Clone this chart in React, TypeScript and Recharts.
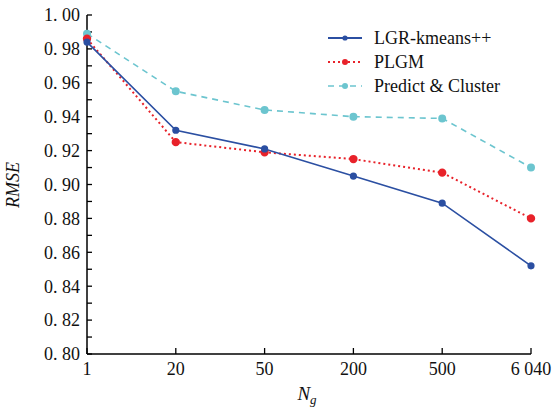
import { LineChart, Line, XAxis, YAxis } from 'recharts';

const categories = ['1', '20', '50', '200', '500', '6 040'];
const lgrKmeans = [0.984, 0.932, 0.921, 0.905, 0.889, 0.852];
const plgm = [0.986, 0.925, 0.919, 0.915, 0.907, 0.880];
const predictCluster = [0.989, 0.955, 0.944, 0.940, 0.939, 0.910];
const yTicks = [
  0.80, 0.81, 0.82, 0.83, 0.84, 0.85, 0.86, 0.87, 0.88, 0.89, 0.90,
  0.91, 0.92, 0.93, 0.94, 0.95, 0.96, 0.97, 0.98, 0.99, 1.00,
];

const data = categories.map((c, i) => ({
  ng: c,
  lgr: lgrKmeans[i],
  plgm: plgm[i],
  pc: predictCluster[i],
}));

const FONT = '"Liberation Serif", "Times New Roman", "DejaVu Serif", serif';
const BLUE = '#2b4fa2';
const RED = '#e8222a';
const CYAN = '#6cc5cf';
const txt = { fontFamily: FONT, fontSize: 18, fill: '#111' };

const YTick = ({ x, y, payload }: any) => {
  const v = Math.round(payload.value * 100);
  if (v % 2 !== 0) return <g />;
  const label = (v / 100).toFixed(2).replace('.', '. ');
  return (
    <text x={x} y={y} dy="0.35em" textAnchor="end" style={txt}>
      {label}
    </text>
  );
};

const XTick = ({ x, y, payload }: any) => (
  <text x={x} y={y} dy="0.71em" textAnchor="middle" style={txt}>
    {payload.value}
  </text>
);

const legendItems = [
  { name: 'LGR-kmeans++', color: BLUE, dash: undefined, w: 1.8, r: 2.6 },
  { name: 'PLGM', color: RED, dash: '2 3', w: 2, r: 3 },
  { name: 'Predict & Cluster', color: CYAN, dash: '6 5', w: 1.6, r: 3 },
];

const axisLine = { stroke: '#000', strokeWidth: 1.5 };
const tickLine = { stroke: '#000', strokeWidth: 1.3 };

export default function App() {
  return (
    <div style={{ position: 'absolute', left: 0, top: 0, width: 553, height: 412, background: '#fff' }}>
      <LineChart width={553} height={412} data={data} margin={{ top: 15, right: 22, left: 0, bottom: 0 }}>
        <XAxis
          dataKey="ng"
          tick={<XTick />}
          tickLine={tickLine}
          tickSize={-6}
          tickMargin={14}
          height={58}
          interval={0}
          axisLine={axisLine}
        />
        <XAxis xAxisId="top" orientation="top" dataKey="ng" height={0} tick={false} tickLine={false} axisLine={axisLine} />
        <YAxis
          domain={[0.8, 1.0]}
          ticks={yTicks}
          interval={0}
          tick={<YTick />}
          tickLine={tickLine}
          tickSize={-5}
          tickMargin={12}
          width={87}
          axisLine={axisLine}
        />
        <YAxis yAxisId="right" orientation="right" domain={[0.8, 1.0]} width={0} tick={false} tickLine={false} axisLine={axisLine} />
        <Line dataKey="pc" stroke={CYAN} strokeWidth={1.6} strokeDasharray="6 5" dot={{ r: 3.2, fill: CYAN, stroke: CYAN, strokeDasharray: '0' }} isAnimationActive={false} />
        <Line dataKey="plgm" stroke={RED} strokeWidth={2} strokeDasharray="2 3" dot={{ r: 3.2, fill: RED, stroke: RED, strokeDasharray: '0' }} isAnimationActive={false} />
        <Line dataKey="lgr" stroke={BLUE} strokeWidth={1.6} dot={{ r: 2.8, fill: BLUE, stroke: BLUE }} isAnimationActive={false} />
      </LineChart>

      <svg width={553} height={412} style={{ position: 'absolute', left: 0, top: 0, pointerEvents: 'none' }}>
        {legendItems.map((it, i) => {
          const y = 38 + i * 24;
          return (
            <g key={it.name}>
              <line x1={328} x2={362} y1={y} y2={y} stroke={it.color} strokeWidth={it.w} strokeDasharray={it.dash} />
              <circle cx={345} cy={y} r={it.r} fill={it.color} />
              <text x={374} y={y} dy="0.35em" style={txt}>{it.name}</text>
            </g>
          );
        })}
        <text x={307} y={400} textAnchor="middle" style={{ ...txt, fontSize: 19, fontStyle: 'italic' }}>
          N<tspan fontSize={13} dy={4}>g</tspan>
        </text>
        <text x={0} y={0} transform="translate(19,185) rotate(-90)" textAnchor="middle" style={{ ...txt, fontStyle: 'italic' }}>
          RMSE
        </text>
      </svg>
    </div>
  );
}
